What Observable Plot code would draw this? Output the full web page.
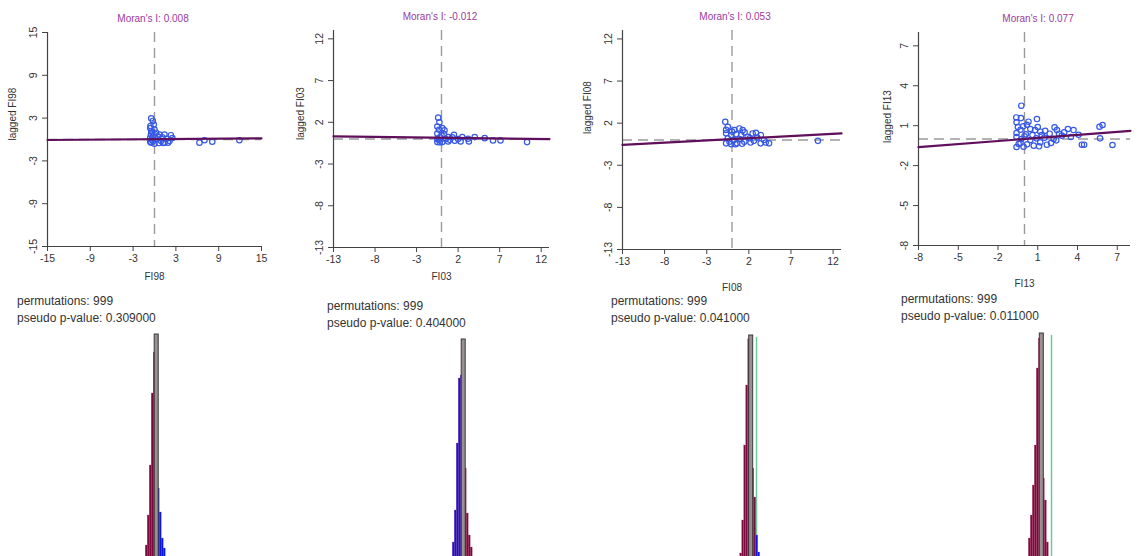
<!DOCTYPE html>
<html><head><meta charset="utf-8">
<script src="https://cdn.jsdelivr.net/npm/d3@7"></script>
<script src="https://cdn.jsdelivr.net/npm/@observablehq/plot@0.6"></script>
<style>
html,body{margin:0;padding:0;background:#fff;overflow:hidden;width:1140px;height:556px}
#root{position:relative;width:1140px;height:556px;overflow:hidden;font-family:"Liberation Sans",Arial,sans-serif}
.abs{position:absolute}
.title{color:#9a3a9e;font-size:10px;transform:translate(-50%,-50%);white-space:nowrap}
.perm{color:#333;font-size:12px;line-height:17px;white-space:nowrap}
svg{overflow:visible}
</style></head><body><div id="root"></div>
<script>
// ---------- data ----------
const variables = ["FI98", "FI03", "FI08", "FI13"];
const moransI = [0.008, -0.012, 0.053, 0.077];
const permutations = [999, 999, 999, 999];
const pseudoP = [0.309, 0.404, 0.041, 0.011];
const axisTicks = [[-15, -9, -3, 3, 9, 15], [-13, -8, -3, 2, 7, 12], [-13, -8, -3, 2, 7, 12], [-8, -5, -2, 1, 4, 7]];
const axisDomains = [[-15, 15], [-13, 13], [-13, 13], [-8, 8]];
const intercepts = [0.05, 0.15, 0.1, 0.0];

const fi98X   = [-0.46,-0.23,-0.1,-0.56,0,-0.46,-0.6,-0.3,-0.5,-0.2,-0.6,-0.4,-0.6,-0.46,0,-0.2,0.23,0.23,0.5,0.7,0.93,1.1,1.4,1.4,1.7,1.9,2.1,2.3,2.5,0.6,1.2,6.3,7.0,8.1,11.9];
const fi98Lag = [2.97,2.6,2.1,1.9,1.4,1.2,1.6,1.0,0.7,0.45,0.25,0.0,-0.3,-0.45,-0.6,-0.2,0.95,0.0,0.4,0.7,-0.2,0.3,0.7,-0.45,0.1,-0.45,-0.2,0.6,0.2,-0.5,-0.5,-0.45,-0.1,-0.3,-0.1];

const fi03X   = [-0.4,-0.25,-0.5,-0.3,0.1,0.36,-0.5,0,-0.2,1.5,1.3,0.8,2.5,3.2,4.0,5.2,6.2,7.1,10.3,-0.5,0.1,0.8,1.6,2.3,3.3,-0.3,0.5,2.0,-0.5,0.3,1.0,-0.2];
const fi03Lag = [2.56,2.0,1.5,1.1,1.3,1.03,0.65,0.43,0.2,0.5,0.2,0.23,0.23,0.03,0.23,0.1,-0.17,-0.17,-0.37,-0.37,-0.37,-0.3,-0.2,-0.3,-0.3,-0.1,0.0,0.0,0.0,0.6,-0.1,-0.4];

const fi08X   = [-0.8,-0.5,0.28,0.87,1.27,-0.7,-0.1,0.5,1.1,1.86,2.45,2.84,3.43,3.8,4.4,3.4,-0.7,-0.1,0.6,1.46,2.1,10.2,-0.5,0.2,-0.7,0.0,0.9,1.5,2.6,3.0,4.0,-0.3,0.4,1.2,2.2];
const fi08Lag = [2.16,1.56,1.17,1.37,1.17,0.8,0.58,0.7,0.58,0.38,0.78,0.85,0.58,0.0,-0.4,-0.4,-0.4,-0.5,-0.4,-0.2,0.2,-0.1,0.2,0.0,1.2,1.0,0.1,0.9,-0.1,0.3,-0.3,-0.2,-0.5,-0.45,-0.3];

const fi13X   = [-0.24,-0.62,-0.27,0.94,-0.6,0.18,0.44,0.8,1.19,1.56,2.27,2.45,3.28,3.7,4.08,4.33,4.5,5.66,5.89,5.7,6.64,-0.6,-0.24,-0.44,-0.6,-0.07,0.44,1.19,1.69,2.2,2.82,3.5,0.9,1.3,-0.5,-0.3,-0.6,-0.3,0.1,0.2,0.6,0.7,1.0,1.5,1.9,2.0,2.6,3.0,0.3,-0.1,1.1,2.4,0.0];
const fi13Lag = [2.5,1.62,1.57,1.5,1.25,1.07,0.75,0.67,0.55,0.62,0.87,0.67,0.75,0.67,0.32,-0.43,-0.43,0.92,1.05,0.05,-0.45,0.45,0.0,-0.37,-0.6,-0.58,-0.08,-0.25,-0.43,0.0,0.25,0.15,0.05,0.3,0.9,0.7,0.15,-0.3,0.35,-0.4,0.3,-0.5,0.9,0.1,0.4,-0.3,0.4,0.5,1.3,0.95,-0.55,-0.1,0.2];

// permutation histograms: bin lower edge (Moran's I), bin counts
const hist98Lower = [-0.13,-0.11,-0.09,-0.07,-0.05,-0.03,-0.01,0.01,0.03,0.05,0.07,0.09,0.11];
const hist98Count = [8,30,60,110,182,223,241,87,63,37,27,12,5];
const hist03Lower = [-0.14,-0.12,-0.10,-0.08,-0.06,-0.04,-0.02,0.00,0.02,0.04,0.06,0.08,0.10];
const hist03Count = [12,33,65,132,197,200,236,107,62,40,28,15,6];
const hist08Lower = [-0.13,-0.11,-0.09,-0.07,-0.05,-0.03,-0.01,0.01,0.03,0.05,0.07,0.09];
const hist08Count = [8,22,55,130,190,236,240,107,78,40,23,10];
const hist13Lower = [-0.17,-0.15,-0.13,-0.11,-0.09,-0.07,-0.05,-0.03,-0.01,0.01,0.03,0.05,0.07];
const hist13Count = [18,37,60,90,130,207,237,242,97,75,33,15,8];
const binWidth = 0.02;

const scatterX = [fi98X, fi03X, fi08X, fi13X];
const scatterY = [fi98Lag, fi03Lag, fi08Lag, fi13Lag];
const histLower = [hist98Lower, hist03Lower, hist08Lower, hist13Lower];
const histCount = [hist98Count, hist03Count, hist08Count, hist13Count];

// ---------- layout / style ----------
const layout = [
  {left: 0,   ml: 47, mr: 24, mt: 32, mb: 49, titleX: 153,  titleY: 18, xlabDy: 33, ylabDx: -35, ylabDy: 1,  permX: 17,  permY: 293, pObs: 157, lowLeft: true},
  {left: 285, ml: 48, mr: 21, mt: 30, mb: 48, titleX: 440,  titleY: 16, xlabDy: 32, ylabDx: -33, ylabDy: 1,  permX: 327, permY: 298, pObs: 178, lowLeft: false},
  {left: 570, ml: 52, mr: 14, mt: 30, mb: 46, titleX: 735,  titleY: 16, xlabDy: 41, ylabDx: -35, ylabDy: -6, permX: 611, permY: 293, pObs: 186, lowLeft: true},
  {left: 855, ml: 63, mr: 10, mt: 32, mb: 50, titleX: 1038, titleY: 18, xlabDy: 41, ylabDx: -31, ylabDy: 4,  permX: 901, permY: 291, pObs: 196, lowLeft: true}
];
const W = 285, H = 295;
const MAROON = "#7c0a3c", BLUE = "#0a14e6", GREY = "#9a9092", GREEN = "#6cc99a";
const root = document.getElementById("root");

function addDiv(cls, x, y, html) {
  const d = document.createElement("div");
  d.className = "abs " + cls;
  d.style.left = x + "px"; d.style.top = y + "px";
  d.innerHTML = html;
  root.appendChild(d);
  return d;
}

variables.forEach((v, i) => {
  const L = layout[i];
  const dom = axisDomains[i];
  const pts = scatterX[i].map((x, k) => ({x, y: scatterY[i][k]}));
  const reg = dom.map(x => ({x, y: moransI[i] * x + intercepts[i]}));

  const scatter = Plot.plot({
    width: W, height: H,
    marginLeft: L.ml, marginRight: L.mr, marginTop: L.mt, marginBottom: L.mb,
    style: {fontFamily: "Liberation Sans, Arial, sans-serif", background: "transparent", overflow: "visible"},
    x: {domain: dom},
    y: {domain: dom},
    marks: [
      Plot.ruleX([0], {stroke: "#9a9a9a", strokeWidth: 1.4, strokeDasharray: "10,6"}),
      Plot.ruleY([0], {stroke: "#9a9a9a", strokeWidth: 1.4, strokeDasharray: "10,6"}),
      Plot.ruleX([dom[0]], {stroke: "#444", strokeWidth: 1.2}),
      Plot.ruleY([dom[0]], {stroke: "#444", strokeWidth: 1.2}),
      Plot.axisX({ticks: axisTicks[i], tickSize: 5, tickPadding: 3, fontSize: 10.5, label: null, stroke: "#444", color: "#333", tickFormat: d => String(d)}),
      Plot.axisY({ticks: axisTicks[i], tickSize: 5, tickPadding: 6, tickRotate: -90, fontSize: 10.5, label: null, stroke: "#444", color: "#333", tickFormat: d => String(d)}),
      Plot.dot(pts, {x: "x", y: "y", r: 2.7, stroke: "#3658e6", strokeWidth: 1.2, fill: "none"}),
      Plot.line(reg, {x: "x", y: "y", stroke: "#5f0f5c", strokeWidth: 2.2}),
      Plot.text([v], {frameAnchor: "bottom", dy: L.xlabDy, fontSize: 10, fill: "#333"}),
      Plot.text(["lagged " + v], {frameAnchor: "left", dx: L.ylabDx, dy: L.ylabDy, rotate: -90, fontSize: 10, fill: "#333"})
    ]
  });
  scatter.style.position = "absolute";
  scatter.style.left = L.left + "px";
  scatter.style.top = "0px";
  root.appendChild(scatter);

  addDiv("title", L.titleX, L.titleY, "Moran's I: " + moransI[i].toFixed(3));
  addDiv("perm", L.permX, L.permY, "permutations: " + permutations[i] + "<br>pseudo p-value: " + pseudoP[i].toFixed(6));

  // histogram
  const obs = moransI[i];
  const counts = histCount[i];
  const maxC = d3.max(counts);
  const bins = histLower[i].map((lo, k) => {
    const c = lo + binWidth / 2;
    const high = c >= obs;
    let fill = (high === L.lowLeft) ? BLUE : MAROON;
    if (counts[k] === maxC) fill = GREY;
    return {x1: lo, x2: lo + binWidth, y: counts[k], fill, top: counts[k] === maxC};
  });
  const HH = 245;
  const hist = Plot.plot({
    width: W, height: HH,
    margin: 0,
    style: {background: "transparent", overflow: "visible"},
    x: {domain: [obs - L.pObs / 100, obs + (W - L.pObs) / 100], axis: null},
    y: {domain: [0, HH], axis: null},
    marks: [
      Plot.ruleX([obs], {y1: 0, y2: maxC - 2, stroke: GREEN, strokeWidth: 1.5}),
      Plot.rectY(bins.filter(b => !b.top), {x1: "x1", x2: "x2", y: "y", fill: "fill", stroke: "#b05078", strokeWidth: 0.3}),
      Plot.rectY(bins.filter(b => b.top), {x1: "x1", x2: "x2", y: "y", fill: "fill", stroke: "#3a3a3a", strokeWidth: 1, insetLeft: -1, insetRight: -1})
    ]
  });
  hist.style.position = "absolute";
  hist.style.left = L.left + "px";
  hist.style.top = "330px";
  root.appendChild(hist);
});
</script></body></html>
